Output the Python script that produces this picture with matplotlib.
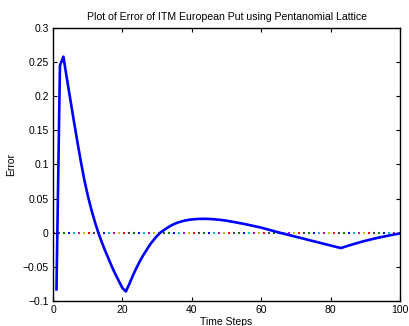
import matplotlib
matplotlib.use("Agg")
import matplotlib.pyplot as plt

plt.rcParams['font.family'] = ['Liberation Sans', 'DejaVu Sans']
plt.rcParams['lines.scale_dashes'] = False

# Error of the lattice price against the exact put value, per number of time steps
steps = [1, 2, 3, 4, 5, 6, 7, 8, 9, 10, 11, 12, 13, 14, 15, 16, 17, 18, 19, 20,
         21, 22, 23, 24, 25, 26, 27, 28, 29, 30, 31, 32, 33, 34, 35, 36, 37, 38,
         39, 40, 42, 44, 46, 48, 50, 55, 60, 65, 70, 75, 80, 83, 84, 86, 88, 90,
         92, 94, 96, 98, 100]
error = [-0.083, 0.245, 0.258, 0.226, 0.195, 0.164, 0.134, 0.105, 0.078, 0.055,
         0.035, 0.017, 0.001, -0.013, -0.026, -0.038, -0.050, -0.061, -0.071,
         -0.081, -0.086, -0.075, -0.063, -0.052, -0.042, -0.033, -0.025, -0.017,
         -0.0105, -0.0045, 0.0005, 0.004, 0.0075, 0.0105, 0.013, 0.015, 0.0165,
         0.0178, 0.0188, 0.0195, 0.0203, 0.0204, 0.0199, 0.0190, 0.0177, 0.0130,
         0.0075, 0.0005, -0.0059, -0.0123, -0.0187, -0.0225, -0.0207, -0.0176,
         -0.0146, -0.0118, -0.0093, -0.0070, -0.0049, -0.0029, -0.0010]

zero_colors = ['#ff0000', '#bfbf00', '#bf00bf', '#00bfbf', '#0000ff', '#008000', '#404040']
xlim = (0, 100)
ylim = (-0.1, 0.3)
xticks = [0, 20, 40, 60, 80, 100]
yticks = [-0.1, -0.05, 0, 0.05, 0.1, 0.15, 0.2, 0.25, 0.3]
ytick_labels = ['\u22120.1', '\u22120.05', '0', '0.05', '0.1', '0.15', '0.2', '0.25', '0.3']

fig = plt.figure(figsize=(4.09, 3.26), dpi=100)
ax = fig.add_axes([0.1296, 0.0767, 0.8484, 0.8374])

# multicoloured dotted zero reference
spacing = 3.6
n = len(zero_colors)
for i, c in enumerate(zero_colors):
    ax.axhline(0, color=c, lw=1.5,
               linestyle=(i * spacing, (1.4, spacing * n - 1.4)), zorder=1)

ax.plot(steps, error, color='#0000ff', lw=1.9, zorder=2, solid_joinstyle='round')

ax.set_xlim(*xlim)
ax.set_ylim(*ylim)
ax.set_xticks(xticks)
ax.set_yticks(yticks)
ax.set_yticklabels(ytick_labels)
ax.tick_params(direction='in', top=True, right=True, labelsize=7.5, length=3,
               width=0.8, pad=3)
for s in ax.spines.values():
    s.set_linewidth(1.0)

ax.set_title('Plot of Error of ITM European Put using Pentanomial Lattice',
             fontsize=7.6, pad=6)
ax.set_xlabel('Time Steps', fontsize=7.5, labelpad=1)
ax.set_ylabel('Error', fontsize=7.5, labelpad=5)

fig.savefig('out.png', dpi=100)
